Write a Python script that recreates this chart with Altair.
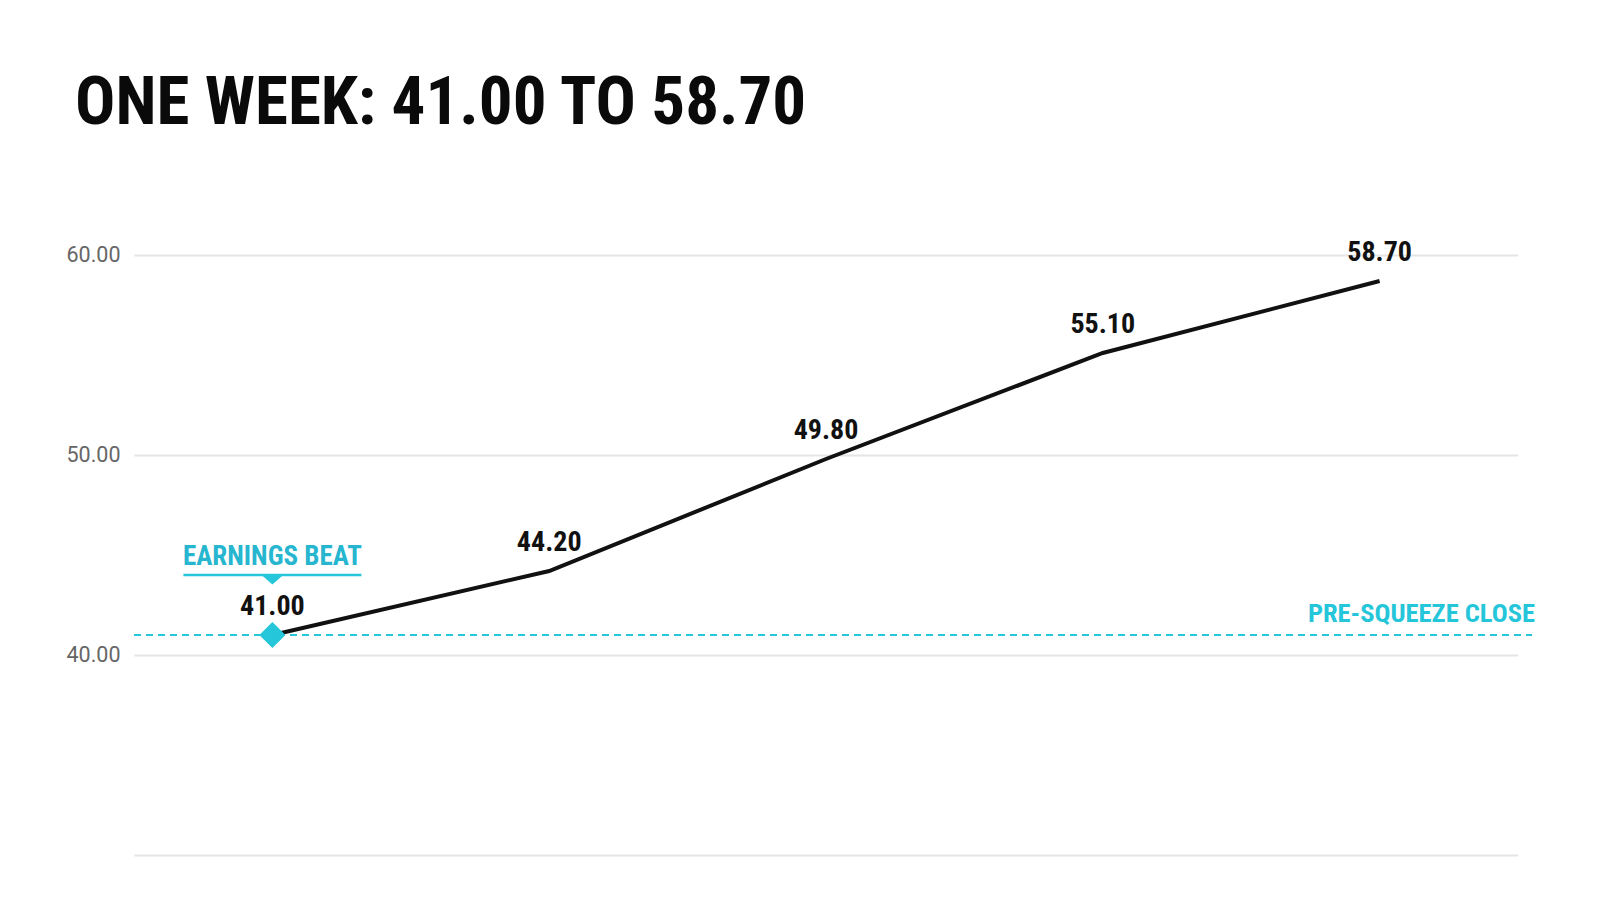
import altair as alt
import pandas as pd

days = ["Day 1", "Day 2", "Day 3", "Day 4", "Day 5"]
prices = [41.00, 44.20, 49.80, 55.10, 58.70]
labels = ["41.00", "44.20", "49.80", "55.10", "58.70"]
pre_squeeze = 41.00
y_ticks = [40, 50, 60]

COND = "Roboto Condensed, Liberation Sans Narrow, DejaVu Sans Condensed, sans-serif"
CYAN = "#25c6da"
CYAN_TXT = "#27b6cf"
W, H = 1384, 600

df = pd.DataFrame({"day": days, "price": prices, "label": labels})
first = df.iloc[[0]].copy()
ref = pd.DataFrame({"v": [pre_squeeze], "t": ["PRE-SQUEEZE CLOSE"]})

xscale = alt.Scale(type="point", padding=0.5)
x = alt.X("day:N", sort=days, scale=xscale,
          axis=alt.Axis(title=None, labels=False, ticks=False, grid=False,
                        domainColor="#e5e5e5", domainWidth=2))
xs = alt.X("day:N", sort=days, scale=xscale)
y = alt.Y("price:Q", scale=alt.Scale(domain=[30, 60], nice=False, zero=False),
          axis=alt.Axis(title=None, values=y_ticks, format=".2f", domain=False,
                        ticks=False, grid=True, gridColor="#e5e5e5", gridWidth=2,
                        labelFont="Roboto", labelFontSize=21.5, labelColor="#666666",
                        labelPadding=14))

base = alt.Chart(df)

ref_rule = alt.Chart(ref).mark_rule(color=CYAN, strokeDash=[7, 5], strokeWidth=2).encode(
    y=alt.Y("v:Q", scale=alt.Scale(domain=[30, 60])), x=alt.value(0), x2=alt.value(W + 14))
ref_text = alt.Chart(ref).mark_text(font=COND, fontSize=26.5, fontWeight="bold", color=CYAN,
                                    align="right", baseline="middle", dy=-21).encode(
    y="v:Q", x=alt.value(W + 17), text="t:N")

line = base.mark_line(color="#111111", strokeWidth=4).encode(x=x, y=y)
vals = base.mark_text(font=COND, fontSize=28, fontWeight="bold", color="#111111",
                      baseline="middle", dy=-28).encode(x=xs, y="price:Q", text="label:N")

fb = alt.Chart(first)
diamond = fb.mark_point(shape="diamond", filled=True, size=680, color=CYAN, opacity=1).encode(
    x=xs, y="price:Q")
beat_text = fb.mark_text(font=COND, fontSize=27, fontWeight="bold", color=CYAN_TXT,
                         baseline="middle", dy=-78).encode(
    x=xs, y="price:Q", text=alt.value("EARNINGS BEAT"))
underline = fb.mark_rule(color=CYAN, strokeWidth=2.5, xOffset=-89, x2Offset=89, yOffset=-60).encode(
    x=xs, x2="day:N", y="price:Q")
tri = fb.mark_point(shape="M-1,-0.45L1,-0.45L0,0.45Z", filled=True, size=420, color=CYAN,
                    opacity=1, yOffset=-55).encode(x=xs, y="price:Q")

chart = alt.layer(ref_rule, line, vals, diamond, underline, tri, beat_text, ref_text).properties(
    width=W, height=H,
    title=alt.TitleParams("ONE WEEK: 41.00 TO 58.70", anchor="start", frame="group",
                          font=COND, fontSize=67, fontWeight="bold", color="#0a0a0a",
                          dx=-59, offset=101),
    autosize=alt.AutoSizeParams(type="none"),
    padding={"left": 126, "top": 247, "right": 50, "bottom": 20},
).configure(background="white").configure_view(strokeOpacity=0, strokeWidth=0)

chart.save("out.html", embed_options={"renderer": "svg", "actions": False})
